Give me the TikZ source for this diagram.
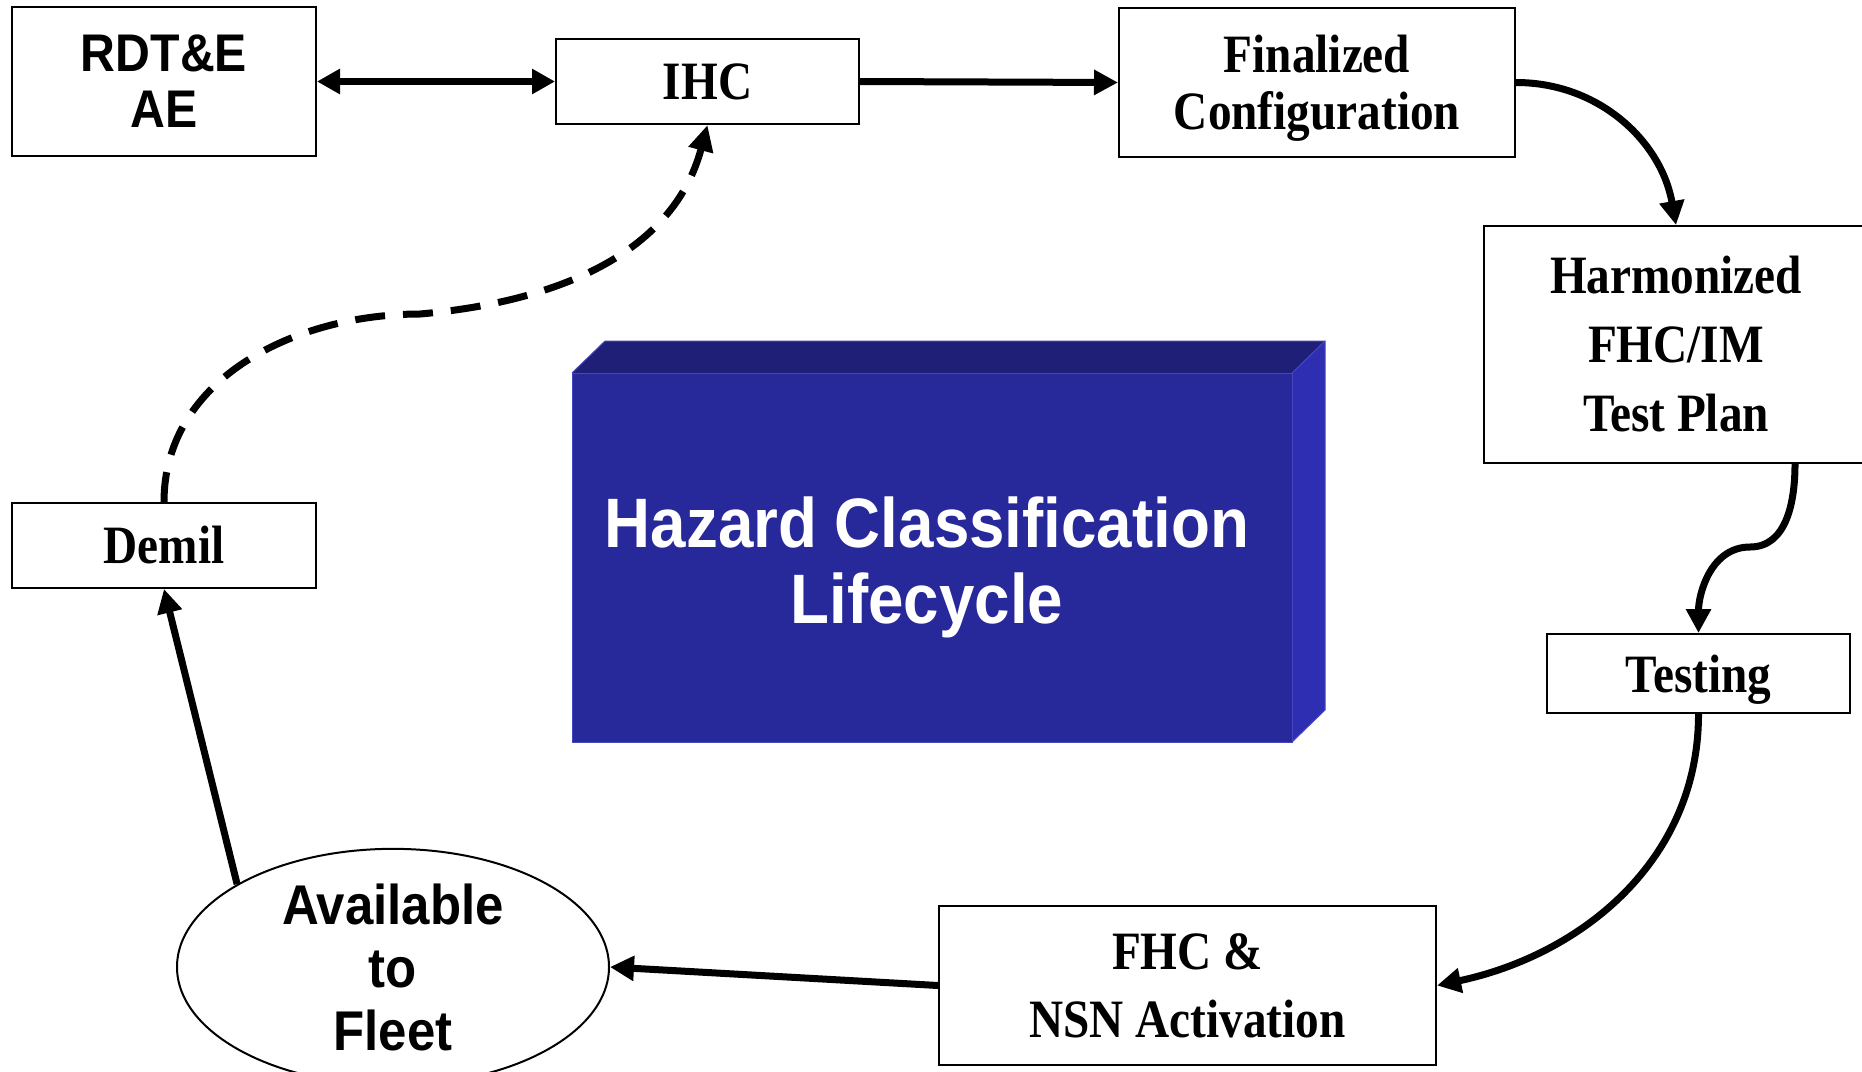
\documentclass[tikz,border=0pt]{standalone}
\usepackage{fontspec}
\usetikzlibrary{arrows.meta,shapes.geometric}
\newfontfamily\tnr[FakeStretch=0.875]{Liberation Serif}
\newfontfamily\ars[FakeStretch=0.91]{Liberation Sans}
\definecolor{frontc}{RGB}{39,40,154}
\definecolor{topc}{RGB}{32,31,120}
\definecolor{sidec}{RGB}{46,46,178}
\definecolor{edgec}{RGB}{70,70,190}
\tikzset{
  box/.style={draw=black, line width=2pt, fill=white, inner sep=0pt, align=center},
  serif/.style={font=\tnr\bfseries\fontsize{54}{57}\selectfont},
  tip/.style={},
  arr/.style={line width=7pt, -{Triangle[length=24pt,width=24pt]}},
  darr/.style={line width=7pt, {Triangle[length=23pt,width=24pt]}-{Triangle[length=23pt,width=24pt]}},
  dash5/.style={line width=7pt, dash pattern=on 30pt off 18pt, -{Triangle[length=26pt,width=24pt]}}
}
\begin{document}
\begin{tikzpicture}[x=1pt,y=1pt]
\useasboundingbox[fill=white] (0,0) rectangle (1862,-1071);
% central 3D box
\fill[topc] (572,-373) -- (605,-341) -- (1325,-341) -- (1292,-373) -- cycle;
\fill[sidec] (1292,-373) -- (1325,-341) -- (1325,-710) -- (1292,-742) -- cycle;
\fill[frontc] (572,-373) rectangle (1292,-742);
\draw[edgec, line width=1pt] (572,-742) -- (572,-373) -- (1292,-373) -- (1292,-742) -- cycle;
\draw[edgec, line width=1pt] (572,-373) -- (605,-341) -- (1325,-341) -- (1325,-710) -- (1292,-742);
\draw[edgec, line width=1pt] (1292,-373) -- (1325,-341);
\node[text=white, align=center, font=\ars\bfseries\fontsize{70}{76}\selectfont] (hc) at (927,-567) {Hazard Classification\\Lifecycle};
% nodes
\node[box, font=\ars\bfseries\fontsize{53}{56}\selectfont, minimum width=304pt, minimum height=149pt] (rdte) at (164,-81.5) {RDT\&E\\AE};
\node[box, serif, minimum width=303pt, minimum height=85pt] (ihc) at (707.5,-81.5) {IHC};
\node[box, serif, text depth=0pt, minimum width=396pt, minimum height=149pt] (fin) at (1317,-82.5) {Finalized\\Configuration};
\node[box, font=\tnr\bfseries\fontsize{54}{69}\selectfont, minimum width=384pt, minimum height=237pt] (harm) at (1676,-344.5) {Harmonized\\FHC/IM\\Test Plan};
\node[box, serif, text depth=0pt, minimum width=303pt, minimum height=79pt] (test) at (1698.5,-673.5) {Testing};
\node[box, font=\tnr\bfseries\fontsize{54}{68}\selectfont, minimum width=497pt, minimum height=159pt] (fhc) at (1187.5,-985.5) {FHC \&\\NSN Activation};
\node[box, serif, minimum width=304pt, minimum height=85pt] (demil) at (164,-545.5) {Demil};
\node[box, ellipse, font=\ars\bfseries\fontsize{56}{63}\selectfont, minimum width=432pt, minimum height=220pt] (avail) at (393,-967) {Available\\to\\Fleet};
% waypoints
\coordinate (w1) at (1750,-547);
\coordinate (w2) at (420,-314);
% connectors
\draw[darr] (rdte.east) -- (ihc.west);
\draw[arr] (ihc.east) -- (fin.west);
\draw[arr] (fin.east) to[out=0,in=100] (harm.north);
\draw[arr] ([xshift=119pt]harm.south) to[out=-90,in=0] (w1) to[out=180,in=90] (test.north);
\draw[arr] (test.south) to[out=-90,in=12] (fhc.east);
\draw[arr] (fhc.west) -- (avail.east);
\draw[arr] (avail.152) -- (demil.south);
\draw[dash5] (demil.north) to[out=90,in=180] (w2) to[out=5,in=-105] (ihc.south);
\end{tikzpicture}
\end{document}
